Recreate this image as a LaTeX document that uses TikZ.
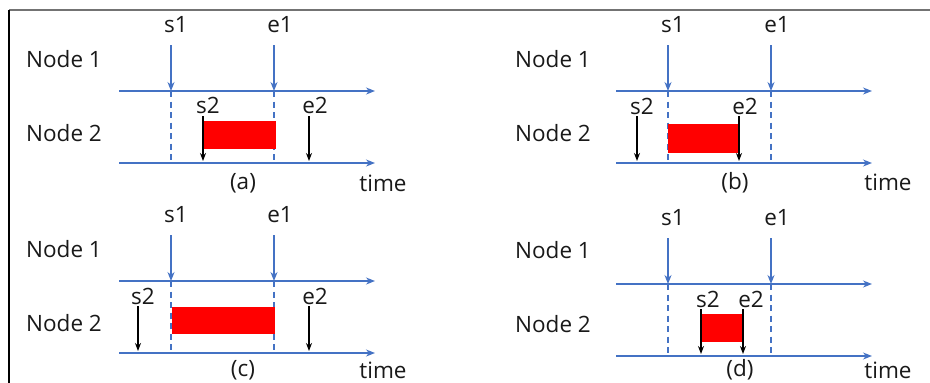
\documentclass[tikz,border=0pt]{standalone}
\usepackage{fontspec}
\setmainfont{Open Sans}
\usetikzlibrary{arrows.meta}
\definecolor{lineblue}{HTML}{4472C4}
\definecolor{slotred}{HTML}{FF0000}
\tikzset{
  x=1pt, y=-1pt,
  lbl/.style={font=\fontsize{22.5}{27}\selectfont, inner sep=0pt, text=black!90},
  axis/.style={draw=lineblue, line width=1.4pt, -{Stealth[length=9pt,width=7pt]}},
  bluearrow/.style={draw=lineblue, line width=1.4pt, -{Stealth[length=9pt,width=7pt]}},
  guide/.style={draw=lineblue, line width=1.4pt, dash pattern=on 6pt off 4.5pt},
  blackarrow/.style={draw=black, line width=1.3pt, -{Stealth[length=8pt,width=6pt]}},
  slot/.style={fill=slotred, draw=none},
}
% Common part of one timing panel:
% #1 name prefix, #2/#3 shift of the row labels, #4/#5 shift of the time lines
\newcommand\timingpanel[5]{%
  \begin{scope}[shift={(#2,#3)}]
    \node[lbl] (#1-n1) at (64,59) {Node 1};
    \node[lbl] (#1-n2) at (64,133) {Node 2};
  \end{scope}
  \begin{scope}[shift={(#4,#5)}]
    \coordinate (#1-a1s) at (119,91);  \coordinate (#1-a1e) at (375,91);
    \coordinate (#1-a2s) at (119,163); \coordinate (#1-a2e) at (375,163);
    \draw[axis] (#1-a1s) -- (#1-a1e);
    \draw[axis] (#1-a2s) -- (#1-a2e);
    \node[lbl] (#1-s1) at (176,25) {s1};
    \node[lbl] (#1-e1) at (280,25) {e1};
    \coordinate (#1-s1t) at (171,45); \coordinate (#1-s1m) at (171,91); \coordinate (#1-s1b) at (171,163);
    \coordinate (#1-e1t) at (274,45); \coordinate (#1-e1m) at (274,91); \coordinate (#1-e1b) at (274,163);
    \draw[bluearrow] (#1-s1t) -- (#1-s1m);
    \draw[bluearrow] (#1-e1t) -- (#1-e1m);
    \draw[guide] (#1-s1m) -- (#1-s1b);
    \draw[guide] (#1-e1m) -- (#1-e1b);
  \end{scope}}

\begin{document}
\begin{tikzpicture}
  \useasboundingbox (0,0) rectangle (930,383);
  % outer frame: top and left edges
  \coordinate (fr-tl) at (9,10);
  \coordinate (fr-tr) at (930,10);
  \coordinate (fr-bl) at (9,383);
  \draw[draw=black!55, line width=2pt] (fr-tl) -- (fr-tr);
  \draw[draw=black, line width=1.5pt] (fr-tl) -- (fr-bl);

  % ---------- (a) ----------
  \timingpanel{a}{0}{0}{0}{0}
  \fill[slot] (203,121) rectangle (276,149);
  \node[lbl] (a-s2) at (208,105) {s2};
  \node[lbl] (a-e2) at (315,105) {e2};
  \coordinate (a-s2t) at (203,116); \coordinate (a-s2b) at (203,161);
  \coordinate (a-e2t) at (309,116); \coordinate (a-e2b) at (309,161);
  \draw[blackarrow] (a-s2t) -- (a-s2b);
  \draw[blackarrow] (a-e2t) -- (a-e2b);
  \node[lbl] (a-cap) at (243,183) {(a)};
  \node[lbl] (a-time) at (383,183) {time};

  % ---------- (b) ----------
  \timingpanel{b}{489}{0}{497}{0}
  \fill[slot] (668,124) rectangle (739,153);
  \node[lbl] (b-s2) at (642,106) {s2};
  \node[lbl] (b-e2) at (745,106) {e2};
  \coordinate (b-s2t) at (637,116); \coordinate (b-s2b) at (637,161);
  \coordinate (b-e2t) at (739,116); \coordinate (b-e2b) at (739,161);
  \draw[blackarrow] (b-s2t) -- (b-s2b);
  \draw[blackarrow] (b-e2t) -- (b-e2b);
  \node[lbl] (b-cap) at (735,183) {(b)};
  \node[lbl] (b-time) at (888,182) {time};

  % ---------- (c) ----------
  \timingpanel{c}{0}{190}{0}{190}
  \fill[slot] (172,307) rectangle (275,334);
  \node[lbl] (c-s2) at (143,296) {s2};
  \node[lbl] (c-e2) at (315,296) {e2};
  \coordinate (c-s2t) at (138,306); \coordinate (c-s2b) at (138,351);
  \coordinate (c-e2t) at (309,306); \coordinate (c-e2b) at (309,351);
  \draw[blackarrow] (c-s2t) -- (c-s2b);
  \draw[blackarrow] (c-e2t) -- (c-e2b);
  \node[lbl] (c-cap) at (243,370) {(c)};
  \node[lbl] (c-time) at (383,370) {time};

  % ---------- (d) ----------
  \timingpanel{d}{489}{191}{497}{193}
  \fill[slot] (701,314) rectangle (743,342);
  \node[lbl] (d-s2) at (708,299) {s2};
  \node[lbl] (d-e2) at (751,299) {e2};
  \coordinate (d-s2t) at (701,309); \coordinate (d-s2b) at (701,354);
  \coordinate (d-e2t) at (743,309); \coordinate (d-e2b) at (743,354);
  \draw[blackarrow] (d-s2t) -- (d-s2b);
  \draw[blackarrow] (d-e2t) -- (d-e2b);
  \node[lbl] (d-cap) at (740,370) {(d)};
  \node[lbl] (d-time) at (888,370) {time};
\end{tikzpicture}
\end{document}
